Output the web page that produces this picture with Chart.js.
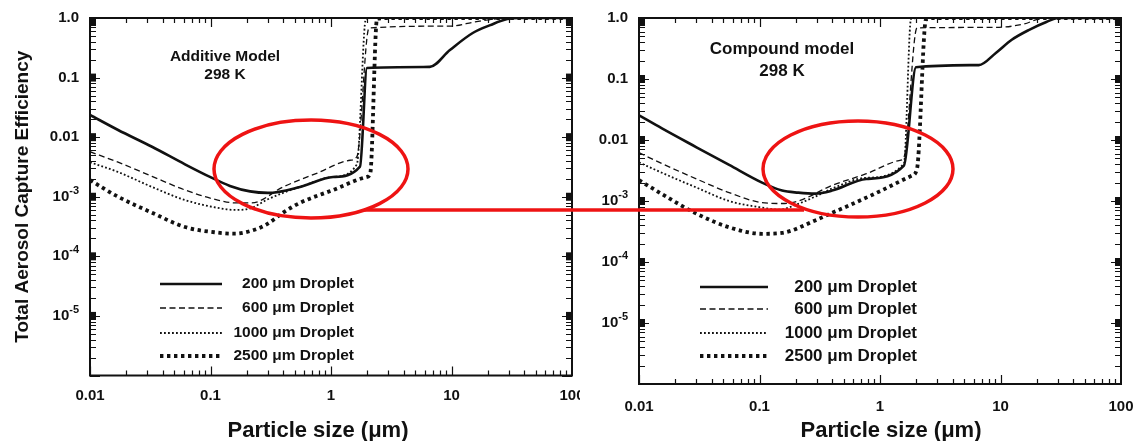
<!DOCTYPE html>
<html>
<head>
<meta charset="utf-8">
<script src="https://cdn.jsdelivr.net/npm/chart.js@4.4.0/dist/chart.umd.min.js"></script>
<style>
  html, body { margin: 0; padding: 0; background: #fff; }
  #wrap { position: relative; width: 1137px; height: 441px; overflow: hidden; background: #fff; }
  canvas { position: absolute; top: 0; }
  #additive { left: 0; }
  #compound { left: 580px; background: #fff; }
  #marks { position: absolute; left: 0; top: 0; }
</style>
</head>
<body>
<div id="wrap">
  <canvas id="additive" width="600" height="441"></canvas>
  <canvas id="compound" width="572" height="441"></canvas>
  <svg id="marks" width="1137" height="441">
    <ellipse cx="311" cy="169" rx="97" ry="49" fill="none" stroke="#ee1313" stroke-width="3.5"/>
    <ellipse cx="858" cy="169" rx="95" ry="48" fill="none" stroke="#ee1313" stroke-width="3.5"/>
    <line x1="364" y1="210" x2="804" y2="210" stroke="#ee1313" stroke-width="3.5"/>
  </svg>
</div>
<script>
// particle size (um) vs total capture efficiency, one list per droplet size
const additive200 = [[0.01,0.0236],[0.0171,0.0132],[0.0327,0.0069],[0.0614,0.0035],[0.099,0.00215],[0.145,0.00152],[0.213,0.00123],[0.3,0.00116],[0.553,0.00146],[1.04,0.00215],[1.74,0.0032],[1.99,0.145],[6.6,0.151],[9.7,0.29],[15,0.56],[21,0.76],[29,0.96],[37,1],[100,1]];
const additive600 = [[0.01,0.0057],[0.0171,0.0038],[0.0327,0.0022],[0.0614,0.0013],[0.115,0.00088],[0.16,0.00079],[0.22,0.00079],[0.4,0.00146],[0.77,0.0025],[1.44,0.0041],[1.64,0.0047],[2.07,0.68],[9.7,0.73],[15.7,0.86],[25,0.98],[32,1],[100,1]];
const additive1000 = [[0.01,0.0038],[0.0171,0.0026],[0.0327,0.00146],[0.0614,0.00088],[0.115,0.00065],[0.16,0.0006],[0.22,0.00065],[0.29,0.00088],[0.4,0.00116],[0.553,0.00146],[1.04,0.00215],[1.64,0.0035],[1.95,0.97],[2.4,1],[100,1]];
const additive2500 = [[0.01,0.0019],[0.0171,0.001],[0.0327,0.00054],[0.0614,0.00031],[0.115,0.00025],[0.16,0.00024],[0.22,0.00027],[0.29,0.00034],[0.4,0.00054],[0.553,0.00079],[1.04,0.0013],[1.99,0.00215],[2.12,0.0025],[2.41,0.97],[3,1],[100,1]];

const compound200 = [[0.01,0.0254],[0.0155,0.0155],[0.03,0.0076],[0.056,0.0039],[0.105,0.002],[0.154,0.00148],[0.21,0.00137],[0.29,0.00132],[0.4,0.00148],[0.77,0.0023],[1.58,0.0038],[1.99,0.156],[6.6,0.169],[9.2,0.27],[12.4,0.44],[17.3,0.64],[24,0.86],[30,1],[100,1]];
const compound600 = [[0.01,0.0062],[0.0155,0.0041],[0.03,0.0023],[0.056,0.00137],[0.105,0.00094],[0.154,0.00091],[0.21,0.001],[0.4,0.0018],[0.77,0.0028],[1.44,0.0046],[1.58,0.0052],[2.03,0.69],[9,0.7],[15.7,0.8],[21,0.97],[26,1],[100,1]];
const compound1000 = [[0.01,0.0043],[0.0155,0.0029],[0.03,0.00166],[0.056,0.001],[0.105,0.00078],[0.145,0.00072],[0.21,0.0009],[0.29,0.00118],[0.4,0.0016],[0.77,0.0024],[1.58,0.0041],[1.81,0.97],[2.3,1],[100,1]];
const compound2500 = [[0.01,0.0022],[0.0155,0.0013],[0.03,0.00062],[0.056,0.00037],[0.105,0.00029],[0.154,0.0003],[0.29,0.00048],[0.4,0.00064],[0.55,0.00084],[1.04,0.0015],[1.84,0.0026],[2.03,0.0034],[2.41,0.95],[3,1],[100,1]];

const dropletLabels = ['200 \u03bcm Droplet', '600 \u03bcm Droplet', '1000 \u03bcm Droplet', '2500 \u03bcm Droplet'];
const xTickValues = [0.01, 0.1, 1, 10, 100];
const xTickLabels = ['0.01', '0.1', '1', '10', '100'];
const yTickValues = [1, 0.1, 0.01, 1e-3, 1e-4, 1e-5];
const yTickLabels = ['1.0', '0.1', '0.01', '10^-3', '10^-4', '10^-5'];

const FONT = "'Liberation Sans', Arial, Helvetica, sans-serif";
const INK = '#111';

// solid, dashed, fine dots, heavy dots
const lineStyles = [
  { width: 2.6, dash: [] },
  { width: 1.3, dash: [6, 3.5] },
  { width: 1.8, dash: [1.8, 2.2] },
  { width: 3.8, dash: [3.4, 3.6] }
];

// frame, inward ticks on all four sides, decade blocks and y labels
const frameTicks = {
  id: 'frameTicks',
  afterDraw(chart) {
    const { ctx, chartArea: a, scales: { x, y } } = chart;
    ctx.save();
    ctx.strokeStyle = INK;
    ctx.fillStyle = INK;
    ctx.lineWidth = 1.2;
    ctx.beginPath();
    for (let e = -2; e < 2; e++) {
      for (let m = 1; m < 10; m++) {
        const px = Math.round(x.getPixelForValue(m * Math.pow(10, e))) + 0.5;
        const len = m === 1 ? 9 : 5;
        ctx.moveTo(px, a.bottom); ctx.lineTo(px, a.bottom - len);
        ctx.moveTo(px, a.top); ctx.lineTo(px, a.top + len);
      }
    }
    for (let e = -6; e < 0; e++) {
      for (let m = 1; m < 10; m++) {
        const py = Math.round(y.getPixelForValue(m * Math.pow(10, e))) + 0.5;
        const len = m === 1 ? 10 : 6;
        ctx.moveTo(a.left, py); ctx.lineTo(a.left + len, py);
        ctx.moveTo(a.right, py); ctx.lineTo(a.right - len, py);
      }
    }
    ctx.stroke();

    yTickValues.forEach(v => {
      const py = y.getPixelForValue(v);
      const top = Math.max(py - 4, a.top);
      ctx.fillRect(a.left, top, 6, 8);
      ctx.fillRect(a.right - 6, top, 6, 8);
    });

    ctx.lineWidth = 2;
    ctx.strokeRect(a.left, a.top, a.right - a.left, a.bottom - a.top);

    ctx.textBaseline = 'middle';
    ctx.textAlign = 'left';
    yTickValues.forEach((v, i) => {
      const py = y.getPixelForValue(v);
      const [base, exp] = yTickLabels[i].split('^');
      ctx.font = `bold 15px ${FONT}`;
      const bw = ctx.measureText(base).width;
      let ew = 0;
      if (exp) {
        ctx.font = `bold 11px ${FONT}`;
        ew = ctx.measureText(exp).width;
      }
      const x0 = a.left - 11 - bw - ew;
      ctx.font = `bold 15px ${FONT}`;
      ctx.fillText(base, x0, py);
      if (exp) {
        ctx.font = `bold 11px ${FONT}`;
        ctx.fillText(exp, x0 + bw, py - 6);
      }
    });
    ctx.restore();
  }
};

// model caption, axis title and the line-sample legend
const captions = {
  id: 'captions',
  afterDraw(chart, args, o) {
    const ctx = chart.ctx;
    ctx.save();
    ctx.fillStyle = INK;
    ctx.textBaseline = 'middle';
    ctx.textAlign = 'center';
    ctx.font = `bold ${o.noteSize}px ${FONT}`;
    o.note.forEach((t, i) => ctx.fillText(t, o.noteX, o.noteY[i]));

    ctx.font = `bold 22px ${FONT}`;
    ctx.fillText(o.xTitle, o.xTitleX, o.xTitleY);

    ctx.textAlign = 'right';
    ctx.font = `bold ${o.legendSize}px ${FONT}`;
    chart.data.datasets.forEach((ds, i) => {
      const ly = o.legendRows[i];
      ctx.strokeStyle = ds.borderColor;
      ctx.lineWidth = ds.borderWidth;
      ctx.setLineDash(ds.borderDash);
      ctx.beginPath();
      ctx.moveTo(o.sampleFrom, ly);
      ctx.lineTo(o.sampleTo, ly);
      ctx.stroke();
      ctx.setLineDash([]);
      ctx.fillText(ds.label, o.textRight, ly);
    });
    ctx.restore();
  }
};

function makeChart(id, series, c) {
  const canvas = document.getElementById(id);
  const datasets = series.map((pts, i) => ({
    label: dropletLabels[i],
    data: pts.map(([x, y]) => ({ x, y })),
    borderColor: INK,
    borderWidth: lineStyles[i].width,
    borderDash: lineStyles[i].dash,
    borderCapStyle: 'butt',
    pointRadius: 0,
    cubicInterpolationMode: 'monotone',
    fill: false
  }));

  return new Chart(canvas, {
    type: 'line',
    data: { datasets },
    plugins: [frameTicks, captions],
    options: {
      responsive: false,
      animation: false,
      devicePixelRatio: 1,
      events: [],
      layout: { padding: { top: c.top, right: canvas.width - c.right, left: 0, bottom: 0 } },
      plugins: {
        legend: { display: false },
        tooltip: { enabled: false },
        captions: c.captions
      },
      scales: {
        x: {
          type: 'logarithmic',
          position: 'bottom',
          min: 0.01,
          max: 100,
          grid: { display: false, drawTicks: false },
          border: { display: false },
          afterBuildTicks: s => { s.ticks = xTickValues.map(v => ({ value: v })); },
          afterFit: s => { s.height = canvas.height - c.bottom; },
          ticks: {
            autoSkip: false,
            maxRotation: 0,
            padding: c.tickPad,
            color: INK,
            font: { family: FONT, size: 15, weight: 'bold' },
            callback: (v, i) => xTickLabels[i]
          }
        },
        y: {
          type: 'logarithmic',
          position: 'left',
          min: 1e-6,
          max: 1,
          grid: { display: false, drawTicks: false },
          border: { display: false },
          ticks: { display: false },
          afterFit: s => { s.width = c.left; },
          title: {
            display: !!c.yTitle,
            text: c.yTitle || '',
            color: INK,
            font: { family: FONT, size: 19, weight: 'bold' },
            padding: { top: 11, bottom: 0 }
          }
        }
      }
    }
  });
}

makeChart('additive', [additive200, additive600, additive1000, additive2500], {
  left: 90, right: 572, top: 18, bottom: 375.5, tickPad: 11,
  yTitle: 'Total Aerosol Capture Efficiency',
  captions: {
    note: ['Additive Model', '298 K'], noteX: 225, noteY: [57, 75], noteSize: 15.5,
    xTitle: 'Particle size (\u03bcm)', xTitleX: 318, xTitleY: 431,
    legendRows: [284, 308, 333, 356], sampleFrom: 160, sampleTo: 222, textRight: 354, legendSize: 15.5
  }
});

makeChart('compound', [compound200, compound600, compound1000, compound2500], {
  left: 59, right: 541, top: 18, bottom: 384, tickPad: 14,
  captions: {
    note: ['Compound model', '298 K'], noteX: 202, noteY: [49, 71], noteSize: 17,
    xTitle: 'Particle size (\u03bcm)', xTitleX: 311, xTitleY: 431,
    legendRows: [287, 309, 333, 356], sampleFrom: 120, sampleTo: 188, textRight: 337, legendSize: 17
  }
});
</script>
</body>
</html>
